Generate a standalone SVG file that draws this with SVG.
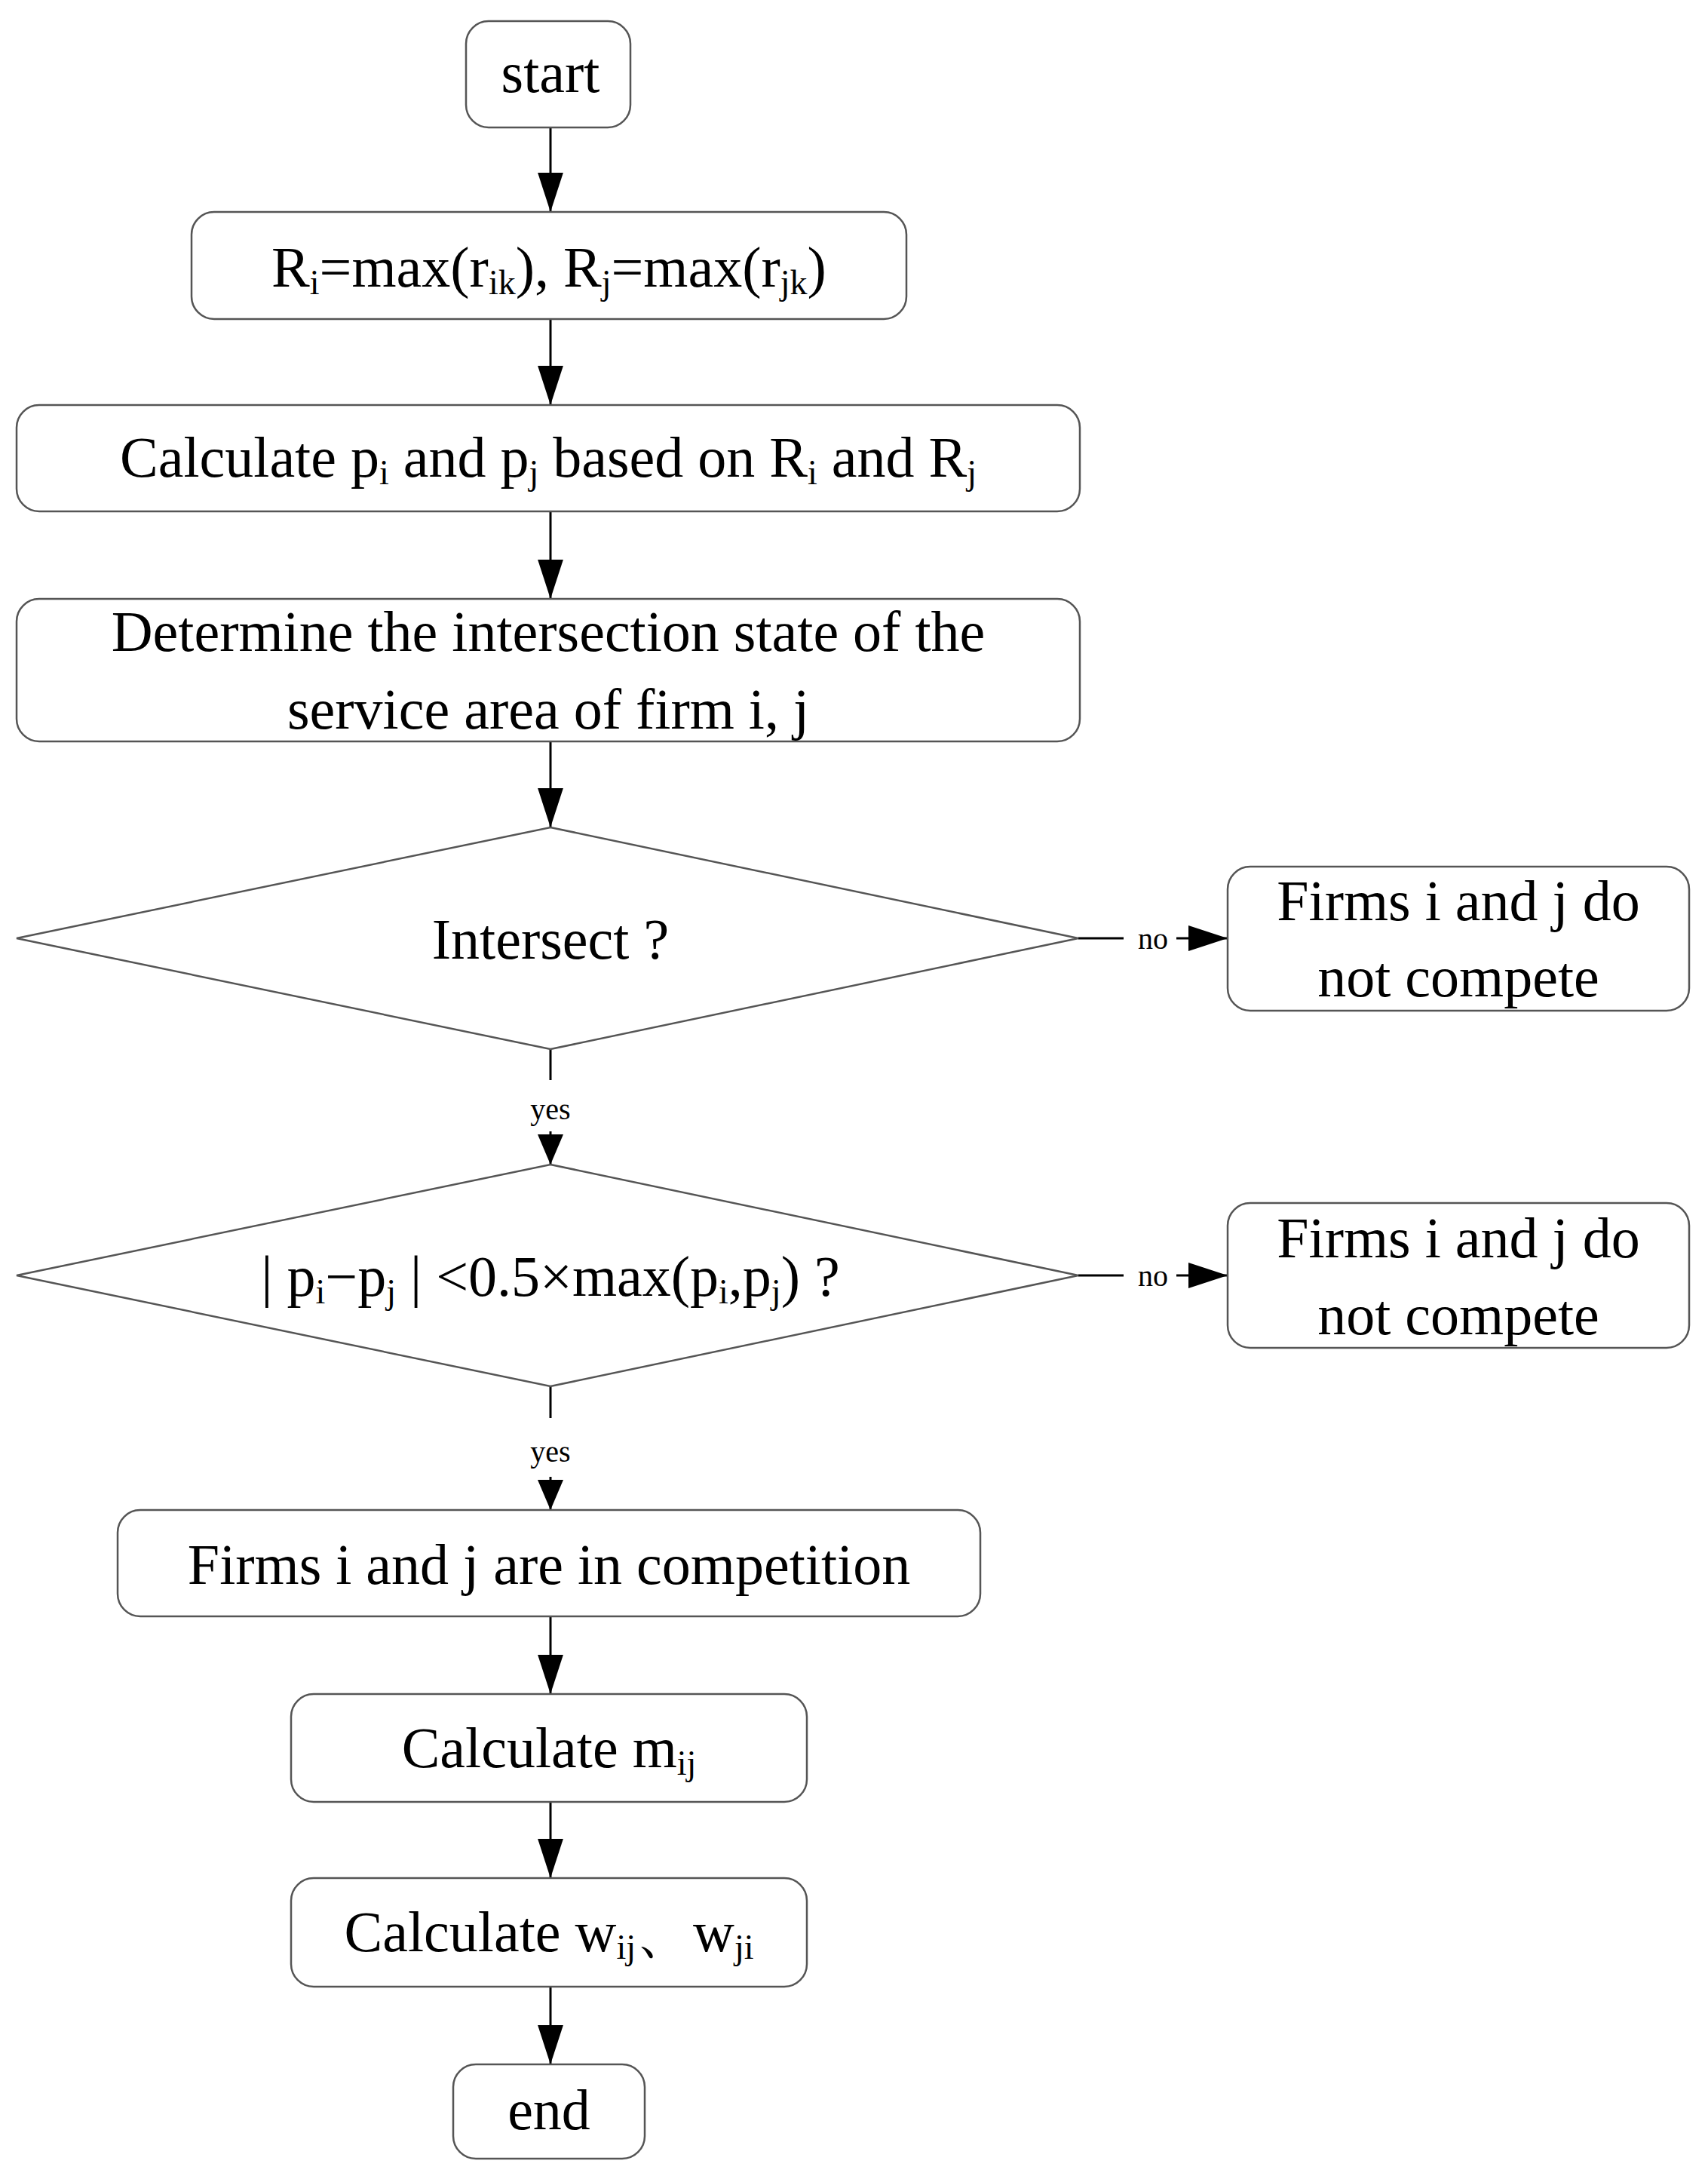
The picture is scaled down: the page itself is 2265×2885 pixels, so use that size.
<svg xmlns="http://www.w3.org/2000/svg" width="2265" height="2885" viewBox="0 0 2265 2885">
<style>
.b{fill:#fff;stroke:#555;stroke-width:2.5}
.t{font-family:"Liberation Serif","Times New Roman",serif;font-size:76px;fill:#000;text-anchor:middle}
.s{font-size:46px}
.l{font-family:"Liberation Serif","Times New Roman",serif;font-size:40px;fill:#000;text-anchor:middle}
.c{stroke:#000;stroke-width:3;fill:none}
</style>
<defs>
<marker id="big" markerUnits="userSpaceOnUse" markerWidth="52" markerHeight="82" refX="80" refY="26" orient="auto" viewBox="0 0 80 52"><path d="M0,0 L80,26 L0,52 Z" fill="#000"/></marker>
<marker id="sm" markerUnits="userSpaceOnUse" markerWidth="40" markerHeight="34" refX="40" refY="17" orient="auto" viewBox="0 0 40 34"><path d="M0,0 L40,17 L0,34 Z" fill="#000"/></marker>
</defs>
<rect width="2265" height="2885" fill="#fff"/>
<g id="connectors" class="c">
<line x1="730" y1="169" x2="730" y2="281" marker-end="url(#big)"/>
<line x1="730" y1="423" x2="730" y2="537" marker-end="url(#big)"/>
<line x1="730" y1="678" x2="730" y2="794" marker-end="url(#big)"/>
<line x1="730" y1="983" x2="730" y2="1097" marker-end="url(#big)"/>
<line x1="1430" y1="1244" x2="1490" y2="1244"/>
<line x1="1560" y1="1244" x2="1628" y2="1244" marker-end="url(#big)"/>
<line x1="730" y1="1391" x2="730" y2="1432"/>
<line x1="730" y1="1500" x2="730" y2="1544" marker-end="url(#sm)"/>
<line x1="1430" y1="1691" x2="1490" y2="1691"/>
<line x1="1560" y1="1691" x2="1628" y2="1691" marker-end="url(#big)"/>
<line x1="730" y1="1838" x2="730" y2="1880"/>
<line x1="730" y1="1958" x2="730" y2="2002" marker-end="url(#sm)"/>
<line x1="730" y1="2143" x2="730" y2="2246" marker-end="url(#big)"/>
<line x1="730" y1="2389" x2="730" y2="2490" marker-end="url(#big)"/>
<line x1="730" y1="2634" x2="730" y2="2737" marker-end="url(#big)"/>
<text class="l" x="1529" y="1258" stroke="none">no</text>
<text class="l" x="1529" y="1705" stroke="none">no</text>
<text class="l" x="730" y="1484" stroke="none">yes</text>
<text class="l" x="730" y="1938" stroke="none">yes</text>
</g>
<g id="start"><rect class="b" x="618" y="28" width="218" height="141" rx="30"/><text class="t" x="730" y="122">start</text></g>
<g id="rmax"><rect class="b" x="254" y="281" width="948" height="142" rx="30"/><text class="t" x="728" y="380">R<tspan class="s" dy="10">i</tspan><tspan dy="-10">=max(r</tspan><tspan class="s" dy="10">ik</tspan><tspan dy="-10">),   R</tspan><tspan class="s" dy="10">j</tspan><tspan dy="-10">=max(r</tspan><tspan class="s" dy="10">jk</tspan><tspan dy="-10">)</tspan></text></g>
<g id="calcp"><rect class="b" x="22" y="537" width="1410" height="141" rx="30"/><text class="t" x="727" y="632">Calculate p<tspan class="s" dy="10">i</tspan><tspan dy="-10"> and p</tspan><tspan class="s" dy="10">j</tspan><tspan dy="-10"> based on R</tspan><tspan class="s" dy="10">i</tspan><tspan dy="-10"> and R</tspan><tspan class="s" dy="10">j</tspan></text></g>
<g id="determine"><rect class="b" x="22" y="794" width="1410" height="189" rx="30"/><text class="t" x="727" y="863">Determine the intersection state of the</text><text class="t" x="727" y="966">service area of firm i, j</text></g>
<g id="d1"><polygon class="b" points="730,1097 1430,1244 730,1391 22,1244"/><text class="t" x="730" y="1271">Intersect ?</text></g>
<g id="nc1"><rect class="b" x="1628" y="1149" width="612" height="191" rx="30"/><text class="t" x="1934" y="1220">Firms i and j do</text><text class="t" x="1934" y="1321">not compete</text></g>
<g id="d2"><polygon class="b" points="730,1544 1430,1691 730,1838 22,1691"/><text class="t" x="730" y="1718">| p<tspan class="s" dy="10">i</tspan><tspan dy="-10">−p</tspan><tspan class="s" dy="10">j</tspan><tspan dy="-10"> |  &lt;0.5×max(p</tspan><tspan class="s" dy="10">i</tspan><tspan dy="-10">,p</tspan><tspan class="s" dy="10">j</tspan><tspan dy="-10">) ?</tspan></text></g>
<g id="nc2"><rect class="b" x="1628" y="1595" width="612" height="192" rx="30"/><text class="t" x="1934" y="1667">Firms i and j do</text><text class="t" x="1934" y="1769">not compete</text></g>
<g id="comp"><rect class="b" x="156" y="2002" width="1144" height="141" rx="30"/><text class="t" x="728" y="2100">Firms i and j are in competition</text></g>
<g id="mij"><rect class="b" x="386" y="2246" width="684" height="143" rx="30"/><text class="t" x="728" y="2343">Calculate m<tspan class="s" dy="10">ij</tspan></text></g>
<g id="wij"><rect class="b" x="386" y="2490" width="684" height="144" rx="30"/><text class="t" x="728" y="2587">Calculate w<tspan class="s" dy="10">ij</tspan><tspan dy="-10">、w</tspan><tspan class="s" dy="10">ji</tspan></text></g>
<g id="end"><rect class="b" x="601" y="2737" width="254" height="125" rx="30"/><text class="t" x="728" y="2823">end</text></g>
</svg>
